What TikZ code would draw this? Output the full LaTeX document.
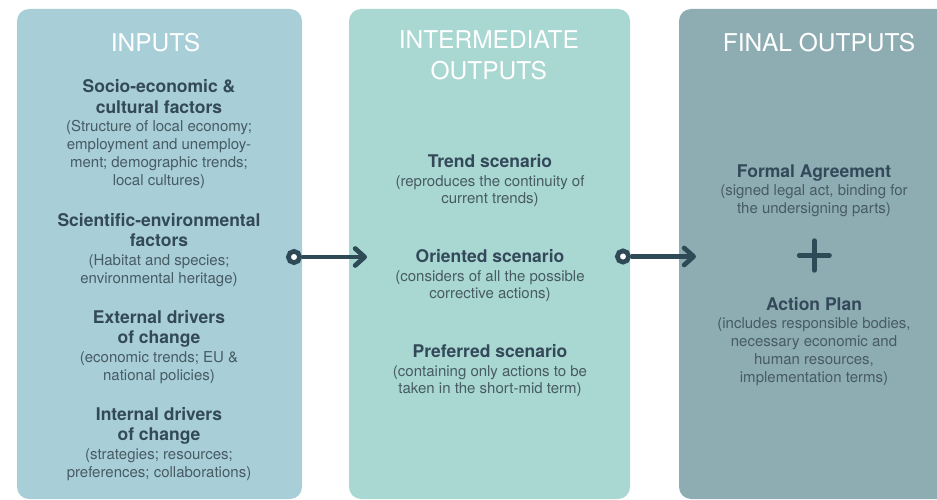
\documentclass[tikz,border=0pt]{standalone}
\usepackage{fontspec}
\setmainfont{TeX Gyre Heros}
\usetikzlibrary{arrows.meta}
\definecolor{inputfill}{HTML}{A8CED8}
\definecolor{interfill}{HTML}{A9D7D1}
\definecolor{finalfill}{HTML}{8EADB2}
\definecolor{flowcol}{HTML}{2F4A57}
\definecolor{headtext}{HTML}{33495A}
\definecolor{bodytext}{HTML}{475B63}
\newcommand\blockhead[1]{{\bfseries\fontsize{17.5}{20}\selectfont\color{headtext}#1}}
\begin{document}
\begin{tikzpicture}[x=1pt,y=-1pt,
  panel/.style={fill=#1, draw=none, rounded corners=12pt},
  title/.style={text=white, font=\fontsize{24.5}{31.6}\selectfont, align=center, inner sep=0pt, anchor=north},
  block/.style={text=bodytext, font=\fontsize{15}{17.8}\selectfont, align=center, inner sep=0pt, anchor=north},
  ring/.style={circle, draw=flowcol, fill=white, line width=4.7pt, minimum size=11.3pt, inner sep=0pt},
  link/.style={draw=flowcol, line width=4.7pt, -{Straight Barb[round,length=9.5pt,width=17pt]}},
  plusbar/.style={draw=flowcol, line width=5pt, line cap=round}
]
\useasboundingbox (0,0) rectangle (937,500);
\clip (0,0) rectangle (937,500);

% three column panels
\path[panel=inputfill] (17,9) rectangle (302,499);
\path[panel=interfill] (349,9) rectangle (630,499);
\path[panel=finalfill] (679,9) rectangle (960,499);

% column titles
\node[title] (tin) at (155.5,32.5) {INPUTS};
\node[title] (tmid) at (488.8,30) {INTERMEDIATE\\OUTPUTS};
\node[title] (tfin) at (819,33.3) {FINAL OUTPUTS};

% inputs
\node[block] (socio) at (159,79.4) {\blockhead{Socio-economic \&}\\[2.7pt]
  \blockhead{cultural factors}\\[1pt]
  (Structure of local economy;\\
  employment and unemploy-\\
  ment; demographic trends;\\
  local cultures)};
\node[block] (sci) at (159,212.9) {\blockhead{Scientific-environmental}\\[2.7pt]
  \blockhead{factors}\\[1pt]
  (Habitat and species;\\
  environmental heritage)};
\node[block] (ext) at (159,309.9) {\blockhead{External drivers}\\[2.7pt]
  \blockhead{of change}\\[1pt]
  (economic trends; EU \&\\
  national policies)};
\node[block] (int) at (159,406.9) {\blockhead{Internal drivers}\\[2.7pt]
  \blockhead{of change}\\[1pt]
  (strategies; resources;\\
  preferences; collaborations)};

% intermediate outputs
\node[block] (trend) at (490,154.1) {\blockhead{Trend scenario}\\[1pt]
  (reproduces the continuity of\\
  current trends)};
\node[block] (orient) at (490,249.1) {\blockhead{Oriented scenario}\\[1pt]
  (considers of all the possible\\
  corrective actions)};
\node[block] (pref) at (490,344.1) {\blockhead{Preferred scenario}\\[1pt]
  (containing only actions to be\\
  taken in the short-mid term)};

% final outputs
\node[block] (formal) at (814,164.1) {\blockhead{Formal Agreement}\\[1pt]
  (signed legal act, binding for\\
  the undersigning parts)};
\node[block] (plan) at (814,297.4) {\blockhead{Action Plan}\\[0.3pt]
  (includes responsible bodies,\\
  necessary economic and\\
  human resources,\\
  implementation terms)};

% plus sign between the two final outputs
\coordinate (plus) at (814.3,255.5);
\draw[plusbar] (plus) ++(-15,0) -- ++(30,0);
\draw[plusbar] (plus) ++(0,-14.7) -- ++(0,29.4);

% flow connectors between the columns
\node[ring] (o1) at (294,257) {};
\coordinate (t1) at (367,257);
\draw[link] (o1) -- (t1);
\node[ring] (o2) at (623,256.5) {};
\coordinate (t2) at (696,256.5);
\draw[link] (o2) -- (t2);
\end{tikzpicture}
\end{document}
